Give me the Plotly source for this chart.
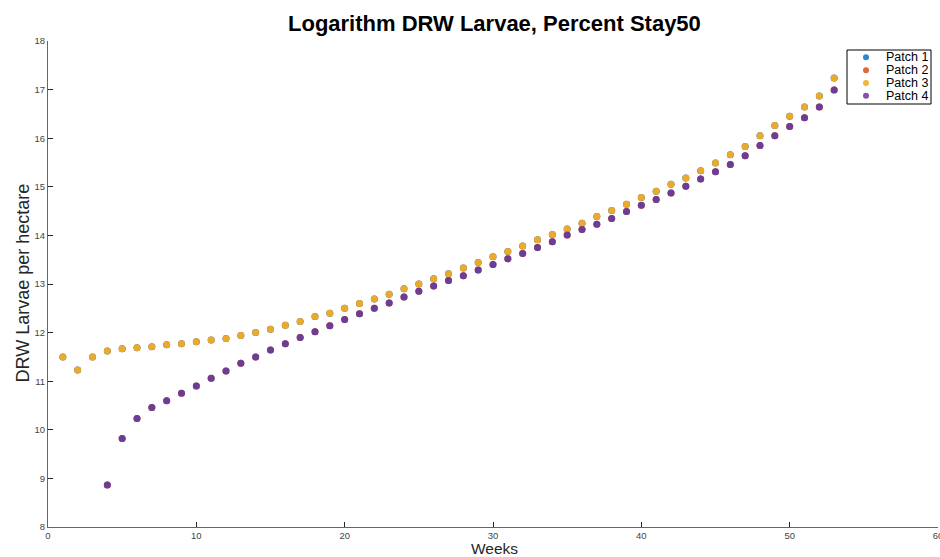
import plotly.graph_objects as go

weeks_p3 = list(range(1, 54))
patch3 = [11.50, 11.23, 11.50, 11.62, 11.67, 11.69, 11.71, 11.75, 11.77, 11.81,
          11.85, 11.88, 11.94, 12.00, 12.07, 12.15, 12.23, 12.33, 12.40, 12.50,
          12.60, 12.69, 12.79, 12.90, 13.00, 13.11, 13.21, 13.33, 13.44, 13.56,
          13.67, 13.78, 13.91, 14.02, 14.13, 14.25, 14.39, 14.51, 14.64, 14.78,
          14.91, 15.05, 15.18, 15.33, 15.49, 15.66, 15.83, 16.05, 16.26, 16.45,
          16.64, 16.87, 17.24]
weeks_p4 = list(range(4, 54))
patch4 = [8.865, 9.82, 10.23, 10.46, 10.60, 10.75, 10.90, 11.06, 11.21, 11.37,
          11.50, 11.64, 11.77, 11.90, 12.02, 12.14, 12.27, 12.39, 12.50, 12.61,
          12.73, 12.85, 12.96, 13.07, 13.17, 13.29, 13.40, 13.52, 13.63, 13.75,
          13.87, 14.01, 14.12, 14.23, 14.35, 14.49, 14.62, 14.74, 14.87, 15.01,
          15.16, 15.31, 15.46, 15.64, 15.85, 16.05, 16.24, 16.42, 16.64, 16.99]
# Patches 1 and 2 are hidden beneath patches 3 and 4
weeks_p1, patch1 = weeks_p3, patch3
weeks_p2, patch2 = weeks_p4, patch4

names = ["Patch 1", "Patch 2", "Patch 3", "Patch 4"]
colors = ["#0072BD", "#D95319", "#EDA92A", "#6C3D97"]
legend_colors = ["#2E86C9", "#DE6A3A", "#F0B63A", "#8A4FA8"]
series = [(weeks_p1, patch1), (weeks_p2, patch2), (weeks_p3, patch3), (weeks_p4, patch4)]
xticks = [0, 10, 20, 30, 40, 50, 60]
yticks = list(range(8, 19))

W, H = 940, 557
L, R, T, B = 48, 2, 41, 30
PW, PH = W - L - R, H - T - B


def px(x):
    return (x - L) / PW


def py(y):
    return (H - B - y) / PH


fig = go.Figure()
for (xs, ys), n, c in zip(series, names, colors):
    fig.add_trace(go.Scatter(x=xs, y=ys, mode="markers", name=n,
                             marker=dict(color=c, size=7, line=dict(width=0))))

font = "Liberation Sans, Arial, Helvetica, sans-serif"
annotations = [
    dict(text="<b>Logarithm DRW Larvae, Percent Stay50</b>", x=px(494.5), y=py(23),
         xref="paper", yref="paper", xanchor="center", yanchor="middle",
         showarrow=False, font=dict(size=22, color="black")),
    dict(text="DRW Larvae per hectare", x=px(22), y=py(283.5), textangle=-90,
         xref="paper", yref="paper", xanchor="center", yanchor="middle",
         showarrow=False, font=dict(size=18, color="#262626")),
    dict(text="Weeks", x=px(494), y=py(548),
         xref="paper", yref="paper", xanchor="center", yanchor="middle",
         showarrow=False, font=dict(size=15.5, color="#262626")),
]
shapes = [dict(type="rect", xref="paper", yref="paper",
               x0=px(847), x1=px(931), y0=py(104), y1=py(50),
               line=dict(color="black", width=1), fillcolor="white", layer="above")]
leg_y = [57.3, 70.3, 83, 95.7]
for n, c, yy in zip(names, legend_colors, leg_y):
    shapes.append(dict(type="circle", xref="paper", yref="paper",
                       x0=px(863), x1=px(869), y0=py(yy + 3), y1=py(yy - 3),
                       line=dict(width=0), fillcolor=c, layer="above"))
    annotations.append(dict(text=n, x=px(884), y=py(yy), xref="paper", yref="paper",
                            xanchor="left", yanchor="middle", showarrow=False,
                            font=dict(size=12.5, color="black")))

fig.update_layout(
    width=W, height=H,
    margin=dict(l=L, r=R, t=T, b=B, autoexpand=False),
    paper_bgcolor="white", plot_bgcolor="white",
    font=dict(family=font, color="#262626"),
    showlegend=False,
    annotations=annotations,
    shapes=shapes,
)
fig.update_xaxes(range=[0, 60], tickvals=xticks, automargin=False,
                 ticklabeloverflow="allow",
                 showgrid=False, zeroline=False, showline=True,
                 linecolor="#666666", linewidth=1, ticks="inside",
                 ticklen=5, tickcolor="#262626", tickfont=dict(size=9.5, color="#444444"))
fig.update_yaxes(range=[8, 18], tickvals=yticks, automargin=False,
                 ticklabeloverflow="allow",
                 showgrid=False, zeroline=False, showline=True,
                 linecolor="#666666", linewidth=1, ticks="inside",
                 ticklen=5, tickcolor="#262626", tickfont=dict(size=9.5, color="#444444"))

fig.write_html("out.html", config={"displayModeBar": False},
               post_script="document.body.style.margin='0';document.body.style.overflow='hidden';")
